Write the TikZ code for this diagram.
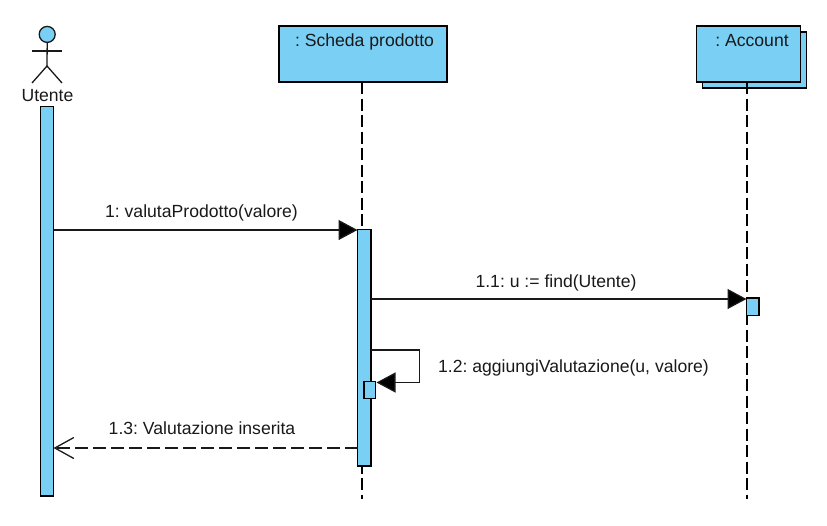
\documentclass[tikz,border=0pt]{standalone}
\usepackage{fontspec}
\setmainfont{Liberation Sans}
\usetikzlibrary{arrows.meta}
\definecolor{lblue}{HTML}{7ACFF5}
\frenchspacing
\tikzset{
  every node/.style={inner sep=0pt,outer sep=0pt},
  box/.style={draw=black,fill=lblue,line width=1.3pt,rectangle,anchor=north west},
  txt/.style={font=\fontsize{17.6pt}{20pt}\selectfont\frenchspacing,text=black!90,anchor=base},
  actorline/.style={line width=1.3pt,draw=black!90},
  lifeline/.style={line width=1.3pt,draw=black,dash pattern=on 12pt off 4.5pt},
  msg/.style={line width=1.3pt,draw=black!90,-{Triangle[length=19pt,width=20pt,fill=black]}},
  ret/.style={line width=1.3pt,draw=black!90,dash pattern=on 13pt off 5pt,-{Straight Barb[length=19pt,width=21pt,line width=1.3pt]}},
}
\begin{document}
\begin{tikzpicture}[x=1pt,y=-1pt]
\useasboundingbox (0,0) rectangle (827,525);
% coordinates of message rows and ends
\coordinate (ym1) at (0,230);
\coordinate (ym2) at (0,299);
\coordinate (ym3) at (0,350);
\coordinate (ym4) at (419.5,382.5);
\coordinate (ym5) at (0,448);
\coordinate (endS) at (362,499);
\coordinate (endA) at (747,499);
% actor
\node[draw=black!90,fill=lblue,line width=1.3pt,circle,minimum size=16pt] (head) at (47.2,34.4) {};
\coordinate (hip) at (47,66);
\coordinate (armL) at (32,51);
\coordinate (armR) at (62,51);
\coordinate (legL) at (32,83);
\coordinate (legR) at (62,83);
\draw[actorline] (head.south) -- (hip);
\draw[actorline] (armL) -- (armR);
\draw[actorline] (legL) -- (hip) -- (legR);
\node[txt] (utente) at (47.5,101.5) {Utente};
% objects
\node[box,minimum width=168pt,minimum height=56pt] (scheda) at (279,26) {};
\node[txt] (schedaT) at (364.5,46) {: Scheda prodotto};
\node[box,minimum width=104pt,minimum height=56pt] (accB) at (702.5,32) {};
\node[box,minimum width=104pt,minimum height=56pt] (acc) at (696.5,26) {};
\node[txt] (accT) at (752,46) {: Account};
% lifelines
\draw[lifeline] (scheda.south -| endS) -- (endS);
\draw[lifeline] (acc.south -| endA) -- (endA);
% activations
\node[box,minimum width=13pt,minimum height=389.5pt] (actU) at (40.5,106.5) {};
\node[box,minimum width=13.5pt,minimum height=236.5pt] (actS) at (357.5,229.5) {};
\node[box,minimum width=12.5pt,minimum height=17.5pt] (actA) at (746.5,298) {};
\node[box,minimum width=11.5pt,minimum height=17.5pt] (actSelf) at (364,381.3) {};
% messages
\draw[msg] (actU.east |- ym1) -- (actS.west |- ym1);
\node[txt] (m1) at (201.5,217) {1: valutaProdotto(valore)};
\draw[msg] (actS.east |- ym2) -- (actA.west |- ym2);
\node[txt] (m2) at (556,287) {1.1: u := find(Utente)};
\draw[msg,shorten >=1pt] (actS.east |- ym3) -- (ym3 -| ym4) -- (ym4) -- (ym4 -| actSelf.east);
\node[txt] (m3) at (573.5,372) {1.2: aggiungiValutazione(u, valore)};
\draw[ret] (actS.west |- ym5) -- (actU.east |- ym5);
\node[txt] (m4) at (202,434) {1.3: Valutazione inserita};
\end{tikzpicture}
\end{document}
